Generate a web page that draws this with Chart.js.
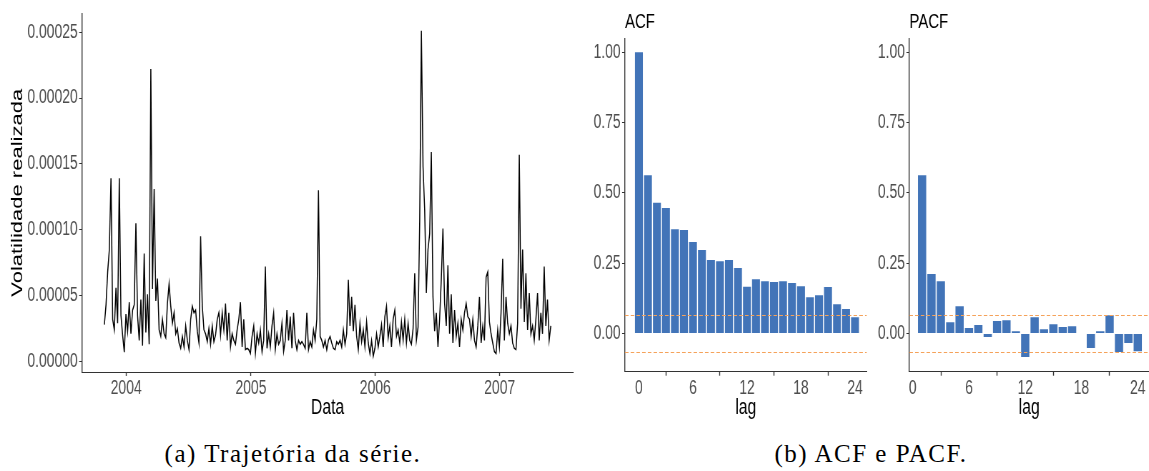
<!DOCTYPE html>
<html><head><meta charset="utf-8">
<script src="https://cdn.jsdelivr.net/npm/chart.js@4.4.1/dist/chart.umd.min.js"></script>
<style>
html,body{margin:0;padding:0;background:#fff;width:1149px;height:471px;overflow:hidden;}
#wrap{position:relative;width:1149px;height:471px;}
canvas{position:absolute;top:0;}
.cap{position:absolute;top:440px;font-family:"Liberation Serif","Times New Roman",serif;font-size:25px;color:#000;white-space:nowrap;transform:translateX(-50%);letter-spacing:1.5px;}
</style></head><body>
<div id="wrap">
<canvas id="c1"></canvas><canvas id="c2"></canvas><canvas id="c3"></canvas>
<div class="cap" style="left:293px">(a) Trajetória da série.</div>
<div class="cap" style="left:871px">(b) ACF e PACF.</div>
</div>
<script>
// ---- data ----
// realized volatility, in units of 1e-5, regularly sampled between seriesStart and seriesEnd
const volE5 = [
 2.8,4.3,6.8,8.5,13.9,3.2,2.4,5.6,2.9,13.9,3.5,2.0,0.7,3.6,2.3,4.5,2.1,3.9,4.3,10.5,
 3.5,1.6,4.7,1.2,8.2,2.2,5.1,1.3,22.2,5.5,13.1,4.6,6.3,2.4,1.9,3.2,2.1,1.8,4.4,5.9,
 4.2,2.9,3.7,2.1,2.5,1.4,1.0,1.9,1.1,2.7,1.6,0.9,3.2,4.2,3.7,3.9,2.3,1.4,9.5,4.2,
 2.4,2.1,1.5,2.5,1.3,2.7,1.5,
 2.0,3.2,3.7,2.0,3.7,2.4,4.4,1.6,3.7,1.1,2.1,1.6,1.3,2.4,3.2,4.5,1.1,3.2,0.9,1.0,
 0.9,0.6,1.9,2.7,0.6,2.1,1.4,2.4,0.75,1.6,7.2,1.0,2.1,1.1,2.7,3.7,0.9,2.1,1.3,1.6,
 2.9,0.75,1.6,3.9,1.6,3.4,1.0,3.7,1.6,0.9,1.6,1.3,1.5,1.3,1.0,3.7,0.9,1.5,1.1,2.4,
 1.6,3.2,13.0,1.9,1.6,1.1,1.6,0.9,1.6,
 1.9,1.4,1.0,0.9,1.5,1.3,1.6,1.1,2.4,1.3,2.1,6.2,2.7,4.9,2.3,4.3,1.9,0.9,2.9,1.5,
 2.4,1.1,3.0,1.4,0.6,1.6,0.4,1.0,2.1,1.1,1.9,2.8,1.1,3.4,4.2,1.8,2.7,1.1,3.2,3.9,
 1.9,2.4,1.4,3.0,1.6,3.2,1.4,2.9,1.6,1.3,2.5,6.7,1.6,2.6,10.7,25.1,14.8,11.5,5.2,8.5,
 9.7,15.9,4.9,2.3,3.7,1.1,3.2,6.2,10.1,
 4.4,2.7,7.3,2.1,5.1,1.4,3.9,1.9,2.9,1.1,3.2,2.4,3.7,4.4,3.4,3.2,1.9,3.2,1.6,1.1,
 2.7,4.9,1.4,2.7,1.6,6.4,6.8,3.0,2.1,1.4,0.75,0.6,2.4,1.1,3.7,7.8,1.6,4.9,2.9,2.1,
 2.7,1.4,1.0,0.9,2.9,15.7,4.0,8.5,3.0,6.7,2.4,5.2,2.1,2.7,1.6,3.2,5.2,1.6,3.7,2.1,
 7.2,2.7,4.7,1.6,2.7
];
const seriesStart = '2003-10-29';
const seriesEnd = '2007-05-31';
const yearTicks = [2004, 2005, 2006, 2007];
const volTicks = [0, 0.00005, 0.00010, 0.00015, 0.00020, 0.00025];

const acfLags = [0,1,2,3,4,5,6,7,8,9,10,11,12,13,14,15,16,17,18,19,20,21,22,23,24];
const acfValues = [1.00,0.563,0.465,0.446,0.371,0.368,0.325,0.297,0.261,0.257,0.261,0.233,
  0.166,0.193,0.186,0.183,0.186,0.179,0.168,0.129,0.136,0.165,0.104,0.087,0.058];
const pacfLags = [1,2,3,4,5,6,7,8,9,10,11,12,13,14,15,16,17,18,19,20,21,22,23,24];
const pacfValues = [0.563,0.211,0.186,0.040,0.097,0.019,0.030,-0.013,0.044,0.047,0.008,-0.084,
  0.058,0.015,0.033,0.023,0.026,0.002,-0.052,0.008,0.065,-0.066,-0.034,-0.063];
const lagTicks = [0, 6, 12, 18, 24];
const corrTicks = [0, 0.25, 0.50, 0.75, 1.00];
const ciLimits = [0.065, -0.065];

// ---- styling ----
const K = 0.715;               // horizontal squeeze of the original figure
const barColor = '#4274B8';
const ciColor = '#F5A25A';
const axisColor = '#333333';
const tickLabelColor = '#4D4D4D';
Chart.defaults.font.family = '"Liberation Sans", Arial, Helvetica, sans-serif';

function setupCanvas(id, left, w, h) {
  const c = document.getElementById(id);
  c.width = w; c.height = h;
  c.style.left = left + 'px';
  c.style.width = (w * K) + 'px';
  c.style.height = h + 'px';
  return c;
}

function axisCommon(horiz) {
  return {
    grid: {display: true, drawOnChartArea: false, tickLength: 4, tickColor: axisColor,
           tickWidth: horiz ? 1.4 : 1},
    border: {display: true, color: axisColor, width: horiz ? 1 : 1.4}
  };
}

const ciPlugin = {
  id: 'ciLines',
  afterDatasetsDraw(chart) {
    const {ctx, chartArea: a, scales: {y}} = chart;
    ctx.save();
    ctx.strokeStyle = ciColor; ctx.lineWidth = 1; ctx.setLineDash([5, 3]);
    ciLimits.forEach(v => {
      const py = Math.round(y.getPixelForValue(v)) + 0.5;
      ctx.beginPath(); ctx.moveTo(a.left, py); ctx.lineTo(a.right, py); ctx.stroke();
    });
    ctx.restore();
  }
};

// ---- (a) series ----
const H = 420;
const W1 = 811;
const c1 = setupCanvas('c1', 0, W1, H);
const t0 = Date.parse(seriesStart + 'T00:00:00Z');
const t1 = Date.parse(seriesEnd + 'T00:00:00Z');
const span = t1 - t0;
const volPoints = volE5.map((v, i) => ({x: t0 + span * i / (volE5.length - 1), y: v * 1e-5}));

new Chart(c1, {
  type: 'line',
  data: {datasets: [{data: volPoints, borderColor: '#000', borderWidth: 1.5, pointRadius: 0,
                     tension: 0, fill: false}]},
  options: {
    responsive: false, animation: false, devicePixelRatio: 1,
    layout: {padding: {left: 0, right: W1 - 573 / K, top: 13, bottom: 0}},
    plugins: {legend: {display: false}, tooltip: {enabled: false}},
    scales: {
      x: Object.assign(axisCommon(true), {
        type: 'linear', min: t0 - 0.05 * span, max: t1 + 0.05 * span,
        afterBuildTicks: s => { s.ticks = yearTicks.map(yr => ({value: Date.UTC(yr, 0, 1)})); },
        ticks: {callback: v => String(new Date(v).getUTCFullYear()), color: tickLabelColor,
                font: {size: 19.5}, padding: 1, maxRotation: 0, autoSkip: false},
        title: {display: true, text: 'Data', color: '#000', font: {size: 22, lineHeight: 1},
                padding: {top: 0, bottom: 1.5}},
        afterFit: s => { s.height = H - 372; }
      }),
      y: Object.assign(axisCommon(false), {
        type: 'linear', min: -0.8e-5, max: 26.4e-5,
        afterBuildTicks: s => { s.ticks = volTicks.map(v => ({value: v})); },
        ticks: {callback: v => Number(v).toFixed(5), color: tickLabelColor,
                font: {size: 19.5}, padding: 2, autoSkip: false},
        title: {display: true, text: 'Volatilidade realizada', color: '#000',
                font: {size: 22, lineHeight: 1}, padding: {top: 14, bottom: 0}},
        afterFit: s => { s.width = 82 / K; }
      })
    }
  }
});

// ---- (b) ACF / PACF ----
function corrChart(id, left, w, title, lags, vals, xmin, xmax, plotLeftCss, rightPadCss) {
  const c = setupCanvas(id, left, w, H);
  return new Chart(c, {
    type: 'bar',
    data: {datasets: [{data: lags.map((l, i) => ({x: l, y: vals[i]})), backgroundColor: barColor,
                       borderWidth: 0, barPercentage: 0.88, categoryPercentage: 1}]},
    options: {
      responsive: false, animation: false, devicePixelRatio: 1,
      layout: {padding: {left: 0, right: rightPadCss / K, top: 0, bottom: 0}},
      plugins: {
        legend: {display: false}, tooltip: {enabled: false},
        title: {display: true, text: title, align: 'start', fullSize: false, color: '#000',
                font: {size: 21, weight: 'normal', lineHeight: 1.2}, padding: {top: 10, bottom: 3}}
      },
      scales: {
        x: Object.assign(axisCommon(true), {
          type: 'linear', offset: false, min: xmin, max: xmax,
          afterBuildTicks: s => { s.ticks = lagTicks.map(v => ({value: v})); },
          ticks: {color: tickLabelColor, font: {size: 19.5}, padding: 1, maxRotation: 0, autoSkip: false},
          title: {display: true, text: 'lag', color: '#000', font: {size: 22, lineHeight: 1},
                  padding: {top: 0, bottom: 1.5}},
          afterFit: s => { s.height = H - 371.7; }
        }),
        y: Object.assign(axisCommon(false), {
          type: 'linear', min: -0.136, max: 1.05,
          afterBuildTicks: s => { s.ticks = corrTicks.map(v => ({value: v})); },
          ticks: {callback: v => Number(v).toFixed(2), color: tickLabelColor,
                  font: {size: 19.5}, padding: 2, autoSkip: false},
          afterFit: s => { s.width = plotLeftCss / K; }
        })
      }
    },
    plugins: [ciPlugin]
  });
}

corrChart('c2', 580, 406, 'ACF', acfLags, acfValues, -1.55, 25.3, 45, 290.3 - 287);
corrChart('c3', 870, 390, 'PACF', pacfLags, pacfValues, -0.36, 25.2, 39.3, 0);
</script>
</body></html>
